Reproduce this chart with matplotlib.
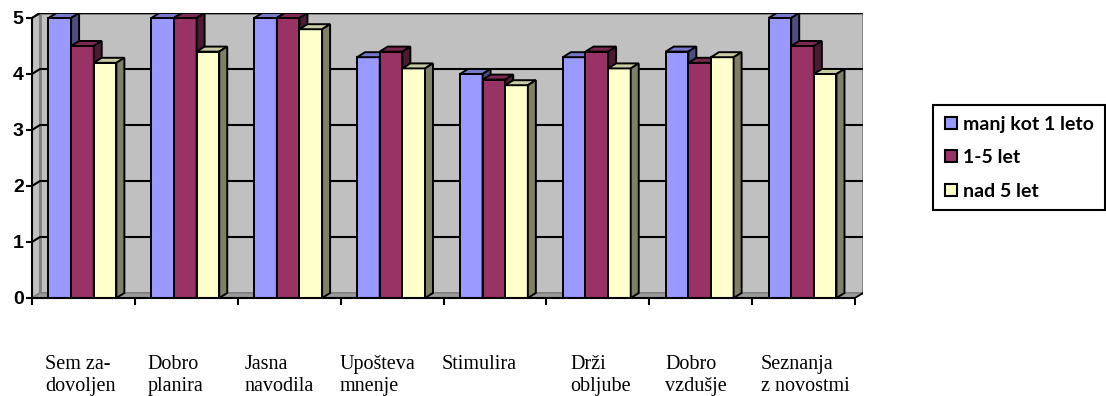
import matplotlib
matplotlib.use('Agg')
import matplotlib.pyplot as plt
from matplotlib.patches import Polygon, Rectangle
from matplotlib.lines import Line2D

# ocene po kategorijah za tri skupine delovne dobe
categories = ['Sem za-\ndovoljen', 'Dobro\nplanira', 'Jasna\nnavodila', 'Upošteva\nmnenje',
              'Stimulira', 'Drži\nobljube', 'Dobro\nvzdušje', 'Seznanja\nz novostmi']
series_names = ['manj kot 1 leto', '1-5 let', 'nad 5 let']
manj_kot_1 = [5.0, 5.0, 5.0, 4.3, 4.0, 4.3, 4.4, 5.0]
od_1_do_5 = [4.5, 5.0, 5.0, 4.4, 3.9, 4.4, 4.2, 4.5]
nad_5 = [4.2, 4.4, 4.8, 4.1, 3.8, 4.1, 4.3, 4.0]
yticks = [0, 1, 2, 3, 4, 5]

# barve: sprednja ploskev, vrh, stranica
front = ['#9999FF', '#993366', '#FFFFCC']
top = ['#7777CC', '#7A2952', '#CCCCA3']
side = ['#4D4D80', '#4D1A33', '#808066']

# zamik globine (3D ucinek) v enotah osi
DX = 8 / 102.875
DY = 5 / 56.0
W = 0.22
label_x = [0.126, 1.12, 2.07, 2.994, 3.985, 5.23, 6.153, 7.087]

fig = plt.figure(figsize=(11.06, 3.96), dpi=100)
ax = fig.add_axes([32 / 1106, 98 / 396, 831 / 1106, 285 / 396])
ax.set_xlim(0, len(categories) + DX)
ax.set_ylim(0, 5 + DY)
ax.patch.set_visible(False)
n = len(categories)

# stene in tla
ax.add_patch(Rectangle((DX, DY), n, 5, facecolor='#C0C0C0', edgecolor='#808080', lw=2, zorder=0))
ax.add_patch(Polygon([(0, 0), (DX, DY), (DX, 5 + DY), (0, 5)], closed=True,
                     facecolor='#C0C0C0', edgecolor='#808080', lw=1.5, zorder=0.5))
ax.add_patch(Polygon([(0, 0), (n, 0), (n + DX, DY), (DX, DY)], closed=True,
                     facecolor='#9A9A9A', edgecolor='#808080', lw=1, zorder=0.5))
ax.plot([n, n + DX], [0, DY], color='black', lw=1.2, zorder=1)

# mreza na zadnji steni
for v in yticks[1:]:
    ax.plot([0, DX, n + DX], [v, v + DY, v + DY], color='black', lw=1.5, zorder=1,
            solid_capstyle='butt')

data = [manj_kot_1, od_1_do_5, nad_5]
x0 = [i + 0.5 - 1.5 * W - 0.01 for i in range(n)]
k = 0
for i in range(n):
    for j in range(3):
        z = 3 + k * 0.01
        k += 1
        bars = ax.bar(x0[i] + j * W, data[j][i], width=W, align='edge', color=front[j],
                      edgecolor='black', lw=1.4, zorder=z,
                      label=series_names[j] if i == 0 else None)
        b = bars[0]
        x, w, h = b.get_x(), b.get_width(), b.get_height()
        ax.add_patch(Polygon([(x, h), (x + w, h), (x + w + DX, h + DY), (x + DX, h + DY)],
                             closed=True, facecolor=top[j], edgecolor='black', lw=1.4,
                             zorder=z + 0.005))
        ax.add_patch(Polygon([(x + w, 0), (x + w + DX, DY), (x + w + DX, h + DY), (x + w, h)],
                             closed=True, facecolor=side[j], edgecolor='black', lw=1.4,
                             zorder=z + 0.005))

# osi
for s in ['top', 'right']:
    ax.spines[s].set_visible(False)
ax.spines['left'].set_bounds(0, 5)
ax.spines['bottom'].set_bounds(0, n)
ax.spines['left'].set_linewidth(1.5)
ax.spines['bottom'].set_linewidth(1.5)
ax.spines['left'].set_zorder(5)
ax.spines['bottom'].set_zorder(5)
ax.set_yticks(yticks)
ax.set_yticklabels([str(t) for t in yticks], fontfamily='Liberation Sans', fontweight='bold',
                   fontsize=14)
ax.set_xticks(range(n + 1))
ax.set_xticklabels([])
ax.tick_params(axis='y', direction='out', length=4, width=1.5, pad=2)
ax.tick_params(axis='x', direction='out', length=5, width=1.5)

for i, lab in enumerate(categories):
    ax.text(label_x[i], -1.02, lab, ha='left', va='top', fontfamily='Liberation Serif',
            fontsize=14.5, linespacing=1.2, clip_on=False)

handles = [Line2D([], [], marker='s', linestyle='none', markersize=8.5, markerfacecolor=c,
                  markeredgecolor='black', markeredgewidth=1.5) for c in front]
leg = ax.legend(handles, series_names, loc='upper left', bbox_to_anchor=(933 / 1106, 1 - 105 / 396),
                bbox_transform=fig.transFigure, borderaxespad=0, fancybox=False,
                edgecolor='black', framealpha=1, handlelength=0.7, handletextpad=0.3,
                labelspacing=0.85, borderpad=0.55,
                prop={'family': 'Lato', 'weight': 'bold', 'size': 14})
leg.get_frame().set_linewidth(1.5)

fig.savefig('out.png', dpi=100)
